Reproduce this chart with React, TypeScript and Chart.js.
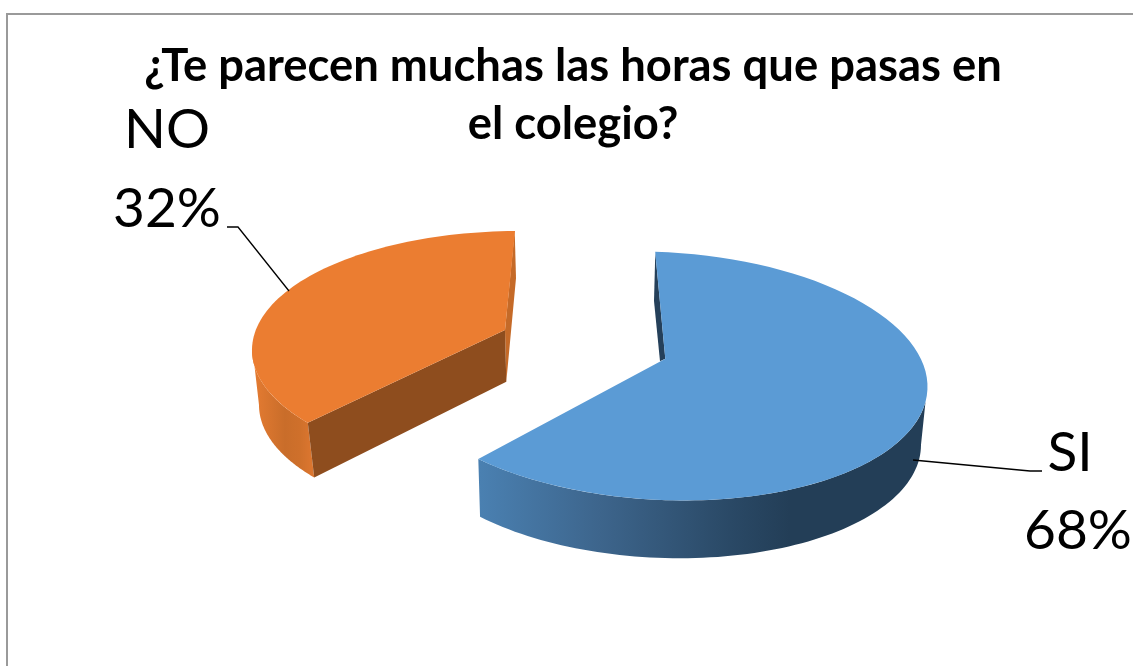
import React, { useEffect, useRef } from "react";
import { Chart, registerables } from "chart.js";

Chart.register(...registerables);

const categories = ["SI", "NO"];
const seriesValues = [68, 32];
const sliceColors = ["#5b9bd5", "#eb7d31"];
const titleLines = ["¿Te parecen muchas las horas que pasas en", "el colegio?"];

type Ell = { cx: number; cy: number; rx: number; ry: number; shear: number };
type Pt = [number, number];

// Hand-fitted view of the tilted, exploded pie: each slice has its own top/bottom rim.
const VIEW = [
  {
    top: { cx: 661, cy: 376, rx: 266.5, ry: 124, shear: 0.04 } as Ell,
    bottom: { cx: 663, cy: 437, rx: 258, ry: 121, shear: 0.03 } as Ell,
    apex: [665.3, 358.7] as Pt,
    depth: [1.5, 58] as Pt,
    shift: [-5.4, -3],
    bottomShift: 0,
    frontFrom: 97,
    wallStops: [[480, "#4a80b1"], [600, "#3d658c"], [730, "#2a4966"], [790, "#233e57"], [930, "#233e57"]] as [number, string][],
    faces: [
      { fill: "#25405a", pts: [[655.3, 252.7], [654, 301], [660, 361.3], [665.3, 358.7]] as Pt[] },
    ],
    cutFace: null as string | null,
  },
  {
    top: { cx: 519, cy: 350, rx: 267, ry: 119, shear: 0 } as Ell,
    bottom: { cx: 521, cy: 405, rx: 262, ry: 118, shear: 0 } as Ell,
    apex: [505, 330] as Pt,
    depth: [1.3, 51.7] as Pt,
    shift: [0, 5.8],
    bottomShift: -1.3,
    frontFrom: 0,
    wallStops: [[252, "#e67c32"], [285, "#c96d2a"], [300, "#cf702b"], [314, "#de7730"]] as [number, string][],
    faces: [
      { fill: "#c56a28", pts: [[514.7, 230.7], [516, 278], [506.3, 381.7], [505, 330]] as Pt[] },
    ],
    cutFace: "#8e4d1e",
  },
];

const LABELS = [
  { x: 1070, y1: 471, y2: 549, leader: [[913, 460], [1030, 471], [1042, 471]] as Pt[] },
  { x: 167, y1: 148, y2: 227, leader: [[227, 227], [238, 227], [289, 291]] as Pt[] },
];

const rimPoint = (e: Ell, p: number): Pt => [
  e.cx + e.rx * Math.sin(p),
  e.cy - e.ry * Math.cos(p) + e.shear * e.rx * Math.sin(p),
];

// Parameter on the rim hit by a ray leaving `from` at clock angle `deg` (screen space)
const rayToRim = (e: Ell, from: Pt, deg: number) => {
  const a = (deg * Math.PI) / 180;
  const dx = Math.sin(a);
  const dy = -Math.cos(a);
  const ox = (from[0] - e.cx) / e.rx;
  const oy = (from[1] - e.cy - e.shear * (from[0] - e.cx)) / e.ry;
  const vx = dx / e.rx;
  const vy = (dy - e.shear * dx) / e.ry;
  const A = vx * vx + vy * vy;
  const B = 2 * (ox * vx + oy * vy);
  const C = ox * ox + oy * oy - 1;
  const t = (-B + Math.sqrt(B * B - 4 * A * C)) / (2 * A);
  const p = Math.atan2(ox + vx * t, -(oy + vy * t));
  return p < -0.2 ? p + 2 * Math.PI : p;
};

const tracePath = (ctx: CanvasRenderingContext2D, e: Ell, p0: number, p1: number, start: boolean) => {
  const steps = 80;
  for (let i = 0; i <= steps; i++) {
    const q = rimPoint(e, p0 + ((p1 - p0) * i) / steps);
    if (i === 0 && start) ctx.moveTo(q[0], q[1]);
    else ctx.lineTo(q[0], q[1]);
  }
};

const tiltedPie = {
  id: "tiltedPie",
  beforeDatasetDraw(chart: any) {
    const ctx: CanvasRenderingContext2D = chart.ctx;
    const arcs = chart.getDatasetMeta(0).data;
    arcs.forEach((arc: any, i: number) => {
      const v = VIEW[i];
      const s = ((arc.startAngle + Math.PI / 2) * 180) / Math.PI + v.shift[0];
      const t = ((arc.endAngle + Math.PI / 2) * 180) / Math.PI + v.shift[1];
      const p0 = rayToRim(v.top, v.apex, s);
      let p1 = rayToRim(v.top, v.apex, t);
      if (p1 < p0) p1 += 2 * Math.PI;
      const bottomApex: Pt = [v.apex[0] + v.depth[0], v.apex[1] + v.depth[1]];
      const frontEnd = i === 0 ? p1 : p0;
      const bEnd = rayToRim(v.bottom, bottomApex, (i === 0 ? t : s) + v.bottomShift);

      // outer wall
      const stops = v.wallStops;
      const grad = ctx.createLinearGradient(stops[0][0], 0, stops[stops.length - 1][0], 0);
      const span = stops[stops.length - 1][0] - stops[0][0];
      stops.forEach(([x, c]) => grad.addColorStop((x - stops[0][0]) / span, c));
      ctx.fillStyle = grad;
      ctx.beginPath();
      if (i === 0) {
        tracePath(ctx, v.top, (v.frontFrom * Math.PI) / 180, frontEnd, true);
        tracePath(ctx, v.bottom, bEnd, Math.PI / 2, false);
      } else {
        tracePath(ctx, v.top, frontEnd, (272 * Math.PI) / 180, true);
        tracePath(ctx, v.bottom, (270 * Math.PI) / 180, bEnd, false);
      }
      ctx.closePath();
      ctx.fill();

      // cut faces
      v.faces.forEach((f) => {
        ctx.fillStyle = f.fill;
        ctx.beginPath();
        f.pts.forEach((q, k) => (k ? ctx.lineTo(q[0], q[1]) : ctx.moveTo(q[0], q[1])));
        ctx.closePath();
        ctx.fill();
      });
      if (v.cutFace) {
        const c = rimPoint(v.top, p0);
        const d = rimPoint(v.bottom, bEnd);
        ctx.fillStyle = v.cutFace;
        ctx.beginPath();
        ctx.moveTo(v.apex[0], v.apex[1]);
        ctx.lineTo(c[0], c[1]);
        ctx.lineTo(d[0], d[1]);
        ctx.lineTo(bottomApex[0], bottomApex[1]);
        ctx.closePath();
        ctx.fill();
      }

      // top surface
      ctx.fillStyle = arc.options.backgroundColor;
      ctx.beginPath();
      ctx.moveTo(v.apex[0], v.apex[1]);
      tracePath(ctx, v.top, p0, p1, false);
      ctx.closePath();
      ctx.fill();
    });
    return false;
  },
  afterDatasetsDraw(chart: any) {
    const ctx: CanvasRenderingContext2D = chart.ctx;
    const data = chart.data.datasets[0].data as number[];
    const total = data.reduce((a, b) => a + b, 0);
    ctx.save();
    ctx.strokeStyle = "#000";
    ctx.lineWidth = 1.3;
    ctx.fillStyle = "#000";
    ctx.textAlign = "center";
    ctx.textBaseline = "alphabetic";
    ctx.font = "55px Lato";
    LABELS.forEach((l, i) => {
      ctx.beginPath();
      l.leader.forEach((q, k) => (k ? ctx.lineTo(q[0], q[1]) : ctx.moveTo(q[0], q[1])));
      ctx.stroke();
      ctx.fillText(String(chart.data.labels[i]), l.x, l.y1);
      ctx.fillText(`${Math.round((data[i] / total) * 100)}%`, l.x + (i === 0 ? 8 : 0), l.y2);
    });
    ctx.restore();
  },
};

export default function App() {
  const ref = useRef<HTMLCanvasElement>(null);
  useEffect(() => {
    const chart = new Chart(ref.current!, {
      type: "pie",
      data: {
        labels: categories,
        datasets: [{ data: seriesValues, backgroundColor: sliceColors, borderWidth: 0 }],
      },
      options: {
        animation: false,
        responsive: false,
        layout: { padding: { left: 13 } },
        plugins: {
          legend: { display: false },
          tooltip: { enabled: false },
          title: {
            display: true,
            text: titleLines,
            color: "#000",
            font: { family: "Lato", size: 45.4, weight: "bold", lineHeight: 1.28 },
            padding: { top: 37, bottom: 0 },
          },
        },
      },
      plugins: [tiltedPie],
    } as any);
    return () => chart.destroy();
  }, []);
  return (
    <div style={{ position: "fixed", left: 0, top: 0, width: 1133, height: 666, background: "#fff", overflow: "hidden" }}>
      <div
        style={{
          position: "absolute",
          left: 6,
          top: 13,
          right: 0,
          bottom: 0,
          borderLeft: "2px solid #9a9a9a",
          borderTop: "2px solid #9a9a9a",
        }}
      />
      <canvas ref={ref} width={1133} height={666} style={{ position: "absolute", left: 0, top: 0 }} />
    </div>
  );
}
